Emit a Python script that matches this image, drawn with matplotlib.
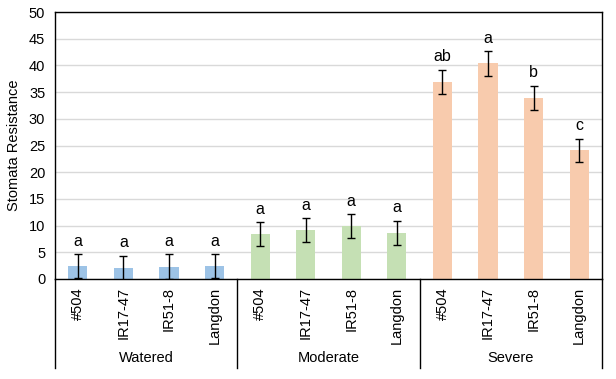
import matplotlib
matplotlib.use("Agg")
import matplotlib.pyplot as plt
import matplotlib.transforms as mtransforms

groups = ["Watered", "Moderate", "Severe"]
genotypes = ["#504", "IR17-47", "IR51-8", "Langdon"]
values = [[2.4, 2.1, 2.3, 2.4],
          [8.4, 9.2, 9.9, 8.6],
          [36.9, 40.4, 33.9, 24.1]]
errors = [[2.2, 2.3, 2.3, 2.2],
          [2.3, 2.2, 2.3, 2.3],
          [2.3, 2.3, 2.3, 2.2]]
letters = [["a", "a", "a", "a"],
           ["a", "a", "a", "a"],
           ["ab", "a", "b", "c"]]
colors = ["#9DC3E6", "#C5E0B4", "#F8CBAD"]

plt.rcParams['font.family'] = ['Liberation Sans', 'DejaVu Sans']
fig = plt.figure(figsize=(6.16, 3.79), dpi=100)
W, H = 616, 379
ax = fig.add_axes([55 / W, (H - 279) / H, 547 / W, 267 / H])

n = len(genotypes)
for gi, g in enumerate(groups):
    xs = [gi * n + i for i in range(n)]
    ax.bar(xs, values[gi], width=0.42, color=colors[gi], zorder=2)
    ax.errorbar(xs, values[gi], yerr=errors[gi], fmt='none', ecolor='black',
                elinewidth=1, capsize=3, capthick=1, zorder=3)
    for x, v, e, l in zip(xs, values[gi], errors[gi], letters[gi]):
        ax.text(x, v + e + 1.0, l, ha='center', va='bottom', fontsize=11.5)

ax.set_xlim(-0.5, len(groups) * n - 0.5)
ax.set_ylim(0, 50)
ax.set_yticks(range(0, 51, 5))
ax.tick_params(axis='y', length=0, labelsize=10.5, pad=7, labelcolor='black')
ax.set_xticks([])
ax.grid(axis='y', color='#D9D9D9', linewidth=1, zorder=0)
ax.set_axisbelow(True)
for s in ax.spines.values():
    s.set_color('black')
    s.set_linewidth(1)
ax.set_ylabel("Stomata Resistance", fontsize=10.5)
ax.yaxis.set_label_coords(-34 / 547, 0.5)

# category axis
trans = mtransforms.blended_transform_factory(ax.transData, ax.transAxes)
depth = 89 / 267
for k in range(len(groups) + 1):
    x = k * n - 0.5
    ax.plot([x, x], [0, -depth], transform=trans, color='black', lw=1, clip_on=False)
for gi, g in enumerate(groups):
    for i, name in enumerate(genotypes):
        x = gi * n + i
        ax.text(x, -8 / 267, name, transform=trans, rotation=90, ha='center',
                va='top', fontsize=10.5)
    ax.text(gi * n + (n - 1) / 2, -79 / 267, g, transform=trans, ha='center',
            va='center', fontsize=10.5)

fig.savefig("out.png", dpi=100)
